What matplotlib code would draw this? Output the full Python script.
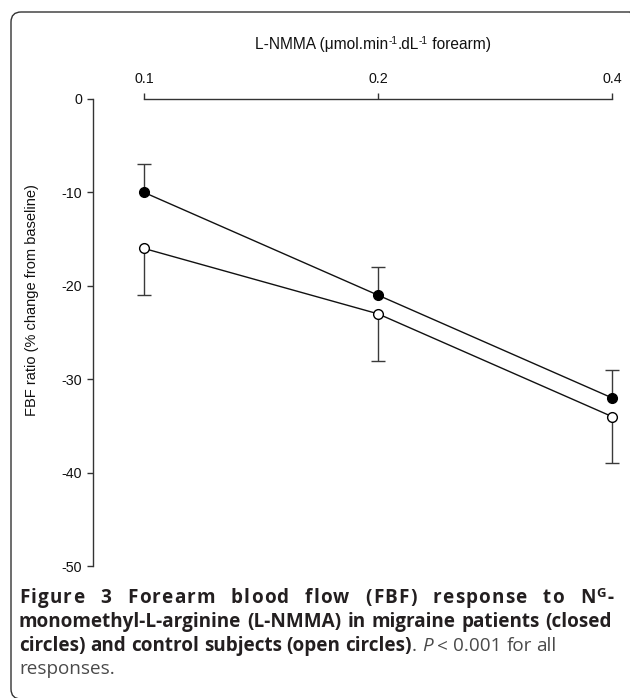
import matplotlib
matplotlib.use('Agg')
import matplotlib.pyplot as plt
import numpy as np
from matplotlib.patches import FancyBboxPatch
from matplotlib.ticker import FixedLocator, FixedFormatter, NullLocator

plt.rcParams['axes.unicode_minus'] = False

# ---- data ----
doses = [0.1, 0.2, 0.4]
dose_labels = ['0.1', '0.2', '0.4']
migraine_mean = [-10, -21, -32]
migraine_sem = [3, 3, 3]
control_mean = [-16, -23, -34]
control_sem = [5, 5, 5]
y_ticks = [0, -10, -20, -30, -40, -50]
y_tick_labels = ['0', '-10', '-20', '-30', '-40', '-50']

W, H = 630, 698
fig = plt.figure(figsize=(W / 100, H / 100), dpi=100)
renderer = fig.canvas.get_renderer()


def fx(px):
    return px / W


def fy(py):
    return 1 - py / H


AXFONT = 'Liberation Sans'
ax = fig.add_axes([fx(93), fy(566), fx(612) - fx(93), fy(99) - fy(566)])
ax.patch.set_alpha(0)
ax.set_xscale('log', base=2)
ax.set_xlim(0.1 * 2 ** (-51 / 234), 0.4)
ax.set_ylim(-50, 0)

ecol = '#3a3a3a'
mig_top = np.array(migraine_mean) + np.array(migraine_sem)
ctl_bot = np.array(control_mean) - np.array(control_sem)
# error bars (closed: upper only, open: lower only), caps only at the far end
ax.errorbar(doses, migraine_mean, yerr=[[0] * 3, migraine_sem], fmt='none',
            ecolor=ecol, elinewidth=1.0, capsize=0, clip_on=False, zorder=2)
ax.errorbar(doses, control_mean, yerr=[control_sem, [0] * 3], fmt='none',
            ecolor=ecol, elinewidth=1.0, capsize=0, clip_on=False, zorder=2)
ax.plot(doses, mig_top, linestyle='none', marker='_', ms=10, mew=1.0, color=ecol,
        clip_on=False, zorder=2)
ax.plot(doses, ctl_bot, linestyle='none', marker='_', ms=10, mew=1.0, color=ecol,
        clip_on=False, zorder=2)
ax.plot(doses, migraine_mean, '-', color='#111111', lw=1.0, clip_on=False, zorder=3)
ax.plot(doses, control_mean, '-', color='#111111', lw=1.0, clip_on=False, zorder=3)
ax.plot(doses, migraine_mean, 'o', ms=7, mfc='black', mec='black', mew=1.0,
        clip_on=False, zorder=4)
ax.plot(doses, control_mean, 'o', ms=7, mfc='white', mec='black', mew=1.0,
        clip_on=False, zorder=4)

for s in ['right', 'bottom']:
    ax.spines[s].set_visible(False)
spcol = '#333333'
ax.spines['top'].set_bounds(0.1, 0.4)
ax.spines['left'].set_bounds(-50, 0)
for s in ['top', 'left']:
    ax.spines[s].set_color(spcol)
    ax.spines[s].set_linewidth(1.0)

ax.xaxis.tick_top()
ax.xaxis.set_major_locator(FixedLocator(doses))
ax.xaxis.set_major_formatter(FixedFormatter(dose_labels))
ax.xaxis.set_minor_locator(NullLocator())
ax.set_yticks(y_ticks)
ax.set_yticklabels(y_tick_labels)
ax.tick_params(axis='x', direction='out', length=4.5, width=1.0, color=spcol, pad=5.0,
               labelsize=10.3, labelcolor='#111111')
ax.tick_params(axis='y', direction='out', length=4.5, width=1.0, color=spcol, pad=3.5,
               labelsize=10.3, labelcolor='#111111')
for lab in ax.get_xticklabels() + ax.get_yticklabels():
    lab.set_fontfamily(AXFONT)


def seg_width(text, weight, style, size, family):
    t = fig.text(0, 0, text, fontsize=size, fontweight=weight, fontstyle=style, family=family)
    w = t.get_window_extent(renderer).width
    t.remove()
    return w


# ---- top axis title with superscripts ----
TS = 11.2
title_segs = [('L-NMMA (μmol.min', 1.0, 0), ('-1', 0.66, 5), ('.dL', 1.0, 0),
              ('-1', 0.66, 5), (' forearm)', 1.0, 0)]
tw = [seg_width(s[0], 'normal', 'normal', TS * s[1], AXFONT) for s in title_segs]
x = 373 - sum(tw) / 2
for s, w in zip(title_segs, tw):
    fig.text(fx(x), fy(49 - s[2]), s[0], fontsize=TS * s[1], family=AXFONT,
             color='#111111', ha='left', va='baseline')
    x += w

fig.text(fx(32), fy(300), 'FBF ratio (% change from baseline)', rotation=90,
         ha='center', va='center', fontsize=10.5, family=AXFONT, color='#111111')

# border
box = FancyBboxPatch((fx(11), fy(699)), fx(640) - fx(11), fy(12) - fy(699),
                     boxstyle='round,pad=0,rounding_size=0.016', transform=fig.transFigure,
                     fill=False, edgecolor='#333333', linewidth=1.0, mutation_aspect=W / H,
                     clip_on=False)
fig.add_artist(box)

# ---- caption ----
CFONT = 'Open Sans'
BOLDC = '#231f20'
REGC = '#4a4a4a'


def B(t, size=1.0, rise=0):
    return (t, 'bold', 'normal', size, rise, BOLDC)


def R(t):
    return (t, 'normal', 'normal', 1.0, 0, REGC)


def I(t):
    return (t, 'normal', 'italic', 1.0, 0, REGC)


X0, X1 = 19, 612
line1 = [[B('Figure')], [B('3')], [B('Forearm')], [B('blood')], [B('flow')], [B('(FBF)')],
         [B('response')], [B('to')], [B('N'), B('G', 0.7, 6), B('-')]]
line2 = [[B('monomethyl-L-arginine')], [B('(L-NMMA)')], [B('in')], [B('migraine')],
         [B('patients')], [B('(closed')]]
line3 = [[B('circles)')], [B('and')], [B('control')], [B('subjects')], [B('(open')],
         [B('circles)'), R('.')], [I('P')], [R('<')], [R('0.001')], [R('for')], [R('all')]]
line4 = [[R('responses.')]]


def natural_width(words, cs):
    sp = seg_width('a a', 'normal', 'normal', cs, CFONT) - seg_width('aa', 'normal', 'normal', cs, CFONT)
    tot = 0
    for w in words:
        tot += sum(seg_width(s[0], s[1], s[2], cs * s[3], CFONT) for s in w)
    return tot + sp * (len(words) - 1)


# fit the caption size so that line 3 spans as in the reference
CS = 10.0 * (558 - X0) / natural_width(line3, 10.0)


def draw_line(words, ybase, x0, x1, justify, tracking=False):
    sp = seg_width('a a', 'bold', 'normal', CS, CFONT) - seg_width('aa', 'bold', 'normal', CS, CFONT)
    nat = natural_width(words, CS)
    nword = len(words) - 1
    extra = (x1 - x0 - nat) if justify else 0
    if tracking and justify:
        nchar_gaps = sum(sum(len(s[0]) for s in w) - 1 for w in words)
        k = 10.0
        ls = extra / (nchar_gaps + k * nword)
        wg = sp + k * ls
    else:
        ls = 0
        wg = sp + (extra / nword if (justify and nword) else 0)
    x = x0
    for w in words:
        for s in w:
            size = CS * s[3]
            if ls:
                for ch in s[0]:
                    fig.text(fx(x), fy(ybase - s[4]), ch, fontsize=size, fontweight=s[1],
                             fontstyle=s[2], family=CFONT, color=s[5], ha='left', va='baseline')
                    x += seg_width(ch, s[1], s[2], size, CFONT) + ls
            else:
                fig.text(fx(x), fy(ybase - s[4]), s[0], fontsize=size, fontweight=s[1],
                         fontstyle=s[2], family=CFONT, color=s[5], ha='left', va='baseline')
                x += seg_width(s[0], s[1], s[2], size, CFONT)
        if ls:
            x -= ls
        x += wg


draw_line(line1, 603, X0, X1, True, tracking=True)
draw_line(line2, 627, X0, X1, True)
draw_line(line3, 651, X0, X1, False)
draw_line(line4, 674, X0, X1, False)

fig.savefig('out.png', dpi=100)
